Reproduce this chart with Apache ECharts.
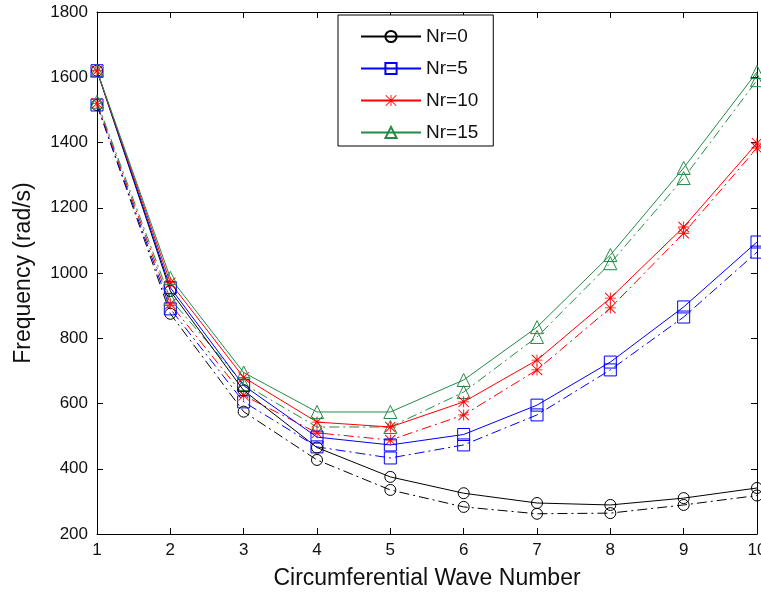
<!DOCTYPE html>
<html>
<head>
<meta charset="utf-8">
<script src="https://cdn.jsdelivr.net/npm/echarts@6/dist/echarts.min.js"></script>
<style>
  html, body { margin: 0; padding: 0; background: #fff; }
  #chart { width: 761px; height: 594px; }
</style>
</head>
<body>
<div id="chart"></div>
<script>
// wave numbers on the x axis
const waveNumbers = [1, 2, 3, 4, 5, 6, 7, 8, 9, 10];
const legendNames = ["Nr=0", "Nr=5", "Nr=10", "Nr=15"];

// solid curves (with legend) and dash-dot curves (no legend)
const nr0Solid = [1620, 945, 640, 465, 375, 325, 295, 289, 310, 341];
const nr0Dash = [1515, 875, 575, 427, 335, 283, 262, 264, 289, 318];
const nr5Solid = [1620, 955, 655, 497, 473, 505, 595, 727, 896, 1095];
const nr5Dash = [1515, 890, 605, 467, 433, 473, 565, 703, 865, 1064];
const nr10Solid = [1620, 970, 680, 543, 528, 605, 733, 923, 1141, 1398];
const nr10Dash = [1520, 905, 625, 510, 488, 565, 703, 893, 1122, 1383];
const nr15Solid = [1620, 985, 695, 574, 574, 672, 834, 1055, 1322, 1616];
const nr15Dash = [1525, 920, 660, 528, 528, 635, 804, 1030, 1291, 1591];

const FONT = "Liberation Sans";
const COLORS = ["#000000", "#0000ff", "#ff0000", "#228b45"];

// matlab-style '*' marker
const ASTERISK =
  "path://M4.6,0h0.8v10h-0.8z M0,4.6h10v0.8h-10z " +
  "M0.6,0L10,9.4L9.4,10L0,0.6z M9.4,0L10,0.6L0.6,10L0,9.4z";
const SYMBOLS = ["circle", "rect", ASTERISK, "triangle"];
const SIZES = [11, 12, 11, 13];

const solids = [nr0Solid, nr5Solid, nr10Solid, nr15Solid];
const dashes = [nr0Dash, nr5Dash, nr10Dash, nr15Dash];

function pairs(vals) {
  return waveNumbers.map((x, i) => [x, vals[i]]);
}

function makeSeries(name, vals, idx, dashed) {
  const c = COLORS[idx];
  const star = idx === 2;
  return {
    name: name,
    type: "line",
    data: pairs(vals),
    symbol: SYMBOLS[idx],
    symbolSize: SIZES[idx],
    showAllSymbol: true,
    color: c,
    lineStyle: { color: c, width: 1, type: dashed ? [10, 4, 2, 4] : "solid" },
    itemStyle: star
      ? { color: c, borderWidth: 0 }
      : { color: "rgba(0,0,0,0)", borderColor: c, borderWidth: 1 },
    emphasis: { disabled: true },
    animation: false,
    z: dashed ? 2 : 3,
  };
}

const series = [];
solids.forEach((s, i) => series.push(makeSeries(legendNames[i], s, i, false)));
dashes.forEach((s, i) => series.push(makeSeries(legendNames[i] + " b", s, i, true)));

const axisLine = { show: true, lineStyle: { color: "#000", width: 1 } };
const tick = { show: true, inside: true, length: 6, lineStyle: { color: "#000" } };
const labelStyle = {
  color: "#111",
  fontFamily: FONT,
  fontSize: 17,
  formatter: (v) => String(v),
};

const chart = echarts.init(document.getElementById("chart"));
chart.setOption({
  backgroundColor: "#fff",
  animation: false,
  grid: {
    left: 97,
    right: 4,
    top: 12,
    bottom: 60,
    containLabel: false,
    outerBoundsMode: "none",
  },
  legend: {
    data: legendNames,
    orient: "vertical",
    left: 338,
    top: 15,
    padding: [12, 15, 4, 22],
    itemWidth: 60,
    itemHeight: 14,
    itemGap: 13,
    borderColor: "#000",
    borderWidth: 1,
    backgroundColor: "#fff",
    textStyle: { color: "#111", fontFamily: FONT, fontSize: 19 },
  },
  xAxis: [
    {
      type: "value",
      min: 1,
      max: 10,
      interval: 1,
      name: "Circumferential Wave Number",
      nameLocation: "middle",
      nameGap: 33,
      nameTextStyle: { color: "#111", fontFamily: FONT, fontSize: 23 },
      axisLine: axisLine,
      axisTick: tick,
      axisLabel: Object.assign({ margin: 8 }, labelStyle),
      splitLine: { show: false },
    },
    {
      type: "value",
      position: "top",
      min: 1,
      max: 10,
      interval: 1,
      axisLine: axisLine,
      axisTick: tick,
      axisLabel: { show: false },
      splitLine: { show: false },
    },
  ],
  yAxis: [
    {
      type: "value",
      min: 200,
      max: 1800,
      interval: 200,
      name: "Frequency (rad/s)",
      nameLocation: "middle",
      nameGap: 62,
      nameTextStyle: { color: "#111", fontFamily: FONT, fontSize: 23 },
      axisLine: axisLine,
      axisTick: tick,
      axisLabel: Object.assign({ margin: 9 }, labelStyle),
      splitLine: { show: false },
    },
    {
      type: "value",
      position: "right",
      min: 200,
      max: 1800,
      interval: 200,
      axisLine: axisLine,
      axisTick: tick,
      axisLabel: { show: false },
      splitLine: { show: false },
    },
  ],
  series: series,
});
</script>
</body>
</html>
